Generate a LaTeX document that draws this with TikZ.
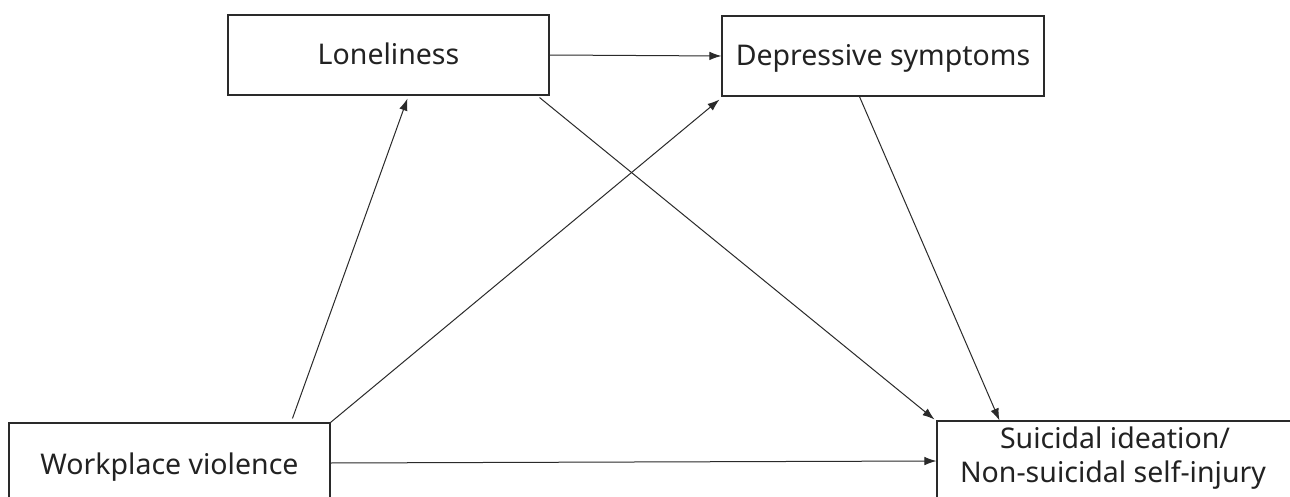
\documentclass[tikz,border=0pt]{standalone}
\usepackage{fontspec}
\setmainfont{Noto Sans}
\usetikzlibrary{arrows.meta,calc}
\definecolor{linec}{HTML}{2A2A2A}
\definecolor{textc}{HTML}{222222}
\begin{document}
\begin{tikzpicture}[x=1pt,y=-1pt,
  box/.style={draw=linec,line width=1.1pt,rectangle,inner sep=0pt},
  lbl/.style={anchor=base,text=textc,font=\fontsize{28.5}{34}\selectfont,inner sep=0pt},
  conn/.style={draw=linec,line width=1pt,-{Latex[length=12pt,width=8.5pt]}}]
\useasboundingbox (0,0) rectangle (1290,497);
\clip (0,0) rectangle (1290,497);
\fill[white] (0,0) rectangle (1290,497);
% boxes
\node[box,minimum width=321pt,minimum height=80pt] (lon) at (388.5,55) {};
\node[box,minimum width=322pt,minimum height=80pt] (dep) at (883,56) {};
\node[box,minimum width=321pt,minimum height=92pt] (wv) at (169.5,469) {};
\node[box,minimum width=363pt,minimum height=99pt] (sui) at (1118.5,470.5) {};
% texts
\node[lbl] (tlon) at (388.5,65) {Loneliness};
\node[lbl] (tdep) at (883,66) {Depressive symptoms};
\node[lbl] (twv) at (169.5,474) {Workplace violence};
\node[lbl] (tsui1) at (1115,448) {Suicidal ideation/};
\node[lbl] (tsui2) at (1113,482) {Non-suicidal self-injury};
% connectors
\draw[conn] ($(wv.north west)+(284,-4)$) -- ($(lon.south west)+(180,3)$);
\draw[conn] (wv.north east) -- ($(dep.south west)+(-2,3)$);
\draw[conn] (lon.east) -- (dep.west);
\draw[conn] ($(lon.south east)+(-10,2)$) -- ($(sui.north west)+(-2,-1)$);
\draw[conn] ($(dep.south west)+(138,0)$) -- ($(sui.north west)+(63,0)$);
\draw[conn] ($(wv.east)+(0,-6)$) -- ($(sui.west)+(0,-9.5)$);
\end{tikzpicture}
\end{document}
